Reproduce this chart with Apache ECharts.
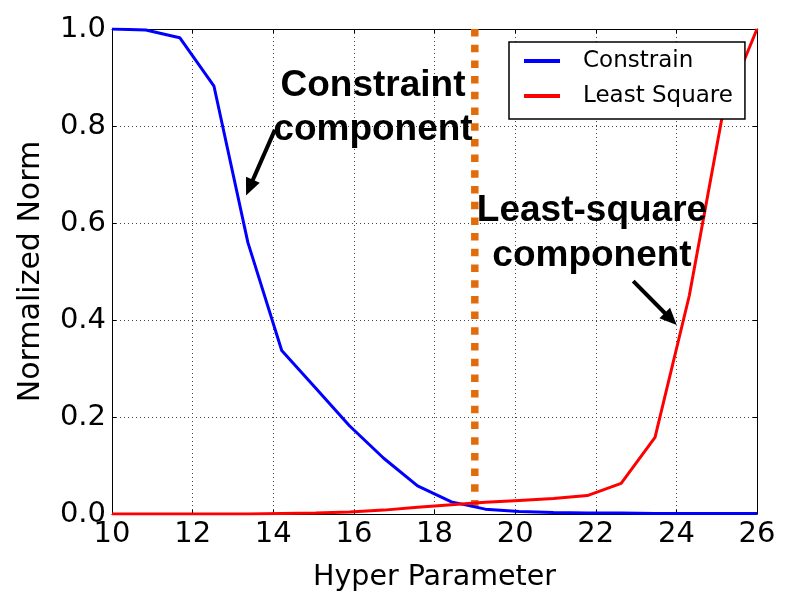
<!DOCTYPE html>
<html>
<head>
<meta charset="utf-8">
<script src="https://cdn.jsdelivr.net/npm/echarts@6/dist/echarts.min.js"></script>
<style>
  html, body { margin: 0; padding: 0; background: #fff; }
  #chart { width: 789px; height: 599px; }
</style>
</head>
<body>
<div id="chart"></div>
<script>
// Hyper parameter sweep (x) and the two normalized norm curves
const hyperParam = [10, 10.84, 11.68, 12.53, 13.37, 14.21, 15.05, 15.89, 16.74, 17.58,
                    18.42, 19.26, 20.1, 20.95, 21.79, 22.63, 23.47, 24.32, 25.16, 26];
const constrainNorm = [1.0, 0.998, 0.982, 0.882, 0.56, 0.337, 0.26, 0.182, 0.115, 0.058,
                       0.025, 0.01, 0.005, 0.003, 0.002, 0.002, 0.001, 0.001, 0.001, 0.001];
const leastSquareNorm = [0, 0, 0, 0, 0, 0.001, 0.002, 0.004, 0.008, 0.014,
                         0.019, 0.024, 0.028, 0.032, 0.038, 0.063, 0.158, 0.45, 0.83, 1.0];

// Chosen hyper parameter (vertical marker)
const chosenParam = 19;

// Axis ticks
const xTicks = [10, 12, 14, 16, 18, 20, 22, 24, 26];
const yTicks = [0.0, 0.2, 0.4, 0.6, 0.8, 1.0];

// Arrow annotations in data space: [from, to]
const constraintArrow = [[14.04, 0.792], [13.41, 0.673]];
const leastSquareArrow = [[22.93, 0.48], [23.86, 0.402]];

const seriesNames = ['Constrain', 'Least Square'];

const pair = (xs, ys) => xs.map((x, i) => [x, ys[i]]);

const chart = echarts.init(document.getElementById('chart'), null, { renderer: 'canvas' });

const tickFont = { fontFamily: 'DejaVu Sans', fontSize: 29, color: '#000' };
const frameLine = { show: true, onZero: false, lineStyle: { color: '#000', width: 1 } };
const gridLine = { show: true, lineStyle: { color: '#444', width: 1, type: [1, 3] } };

const arrowLine = (pts) => [{ coord: pts[0], symbol: 'none' }, { coord: pts[1], symbol: 'triangle', symbolSize: [15, 17] }];

chart.setOption({
  animation: false,
  backgroundColor: '#fff',
  grid: { left: 112, right: 32, top: 29, bottom: 85, containLabel: false },
  legend: {
    data: seriesNames,
    left: 509, top: 42,
    orient: 'vertical',
    icon: 'rect',
    itemWidth: 36, itemHeight: 4,
    itemGap: 9,
    padding: [6, 12, 10, 15],
    borderColor: '#000', borderWidth: 1.5,
    backgroundColor: '#fff',
    textStyle: { fontFamily: 'DejaVu Sans', fontSize: 23, color: '#000', lineHeight: 26, padding: [0, 0, 0, 18] }
  },
  xAxis: [{
    type: 'value', min: xTicks[0], max: xTicks[xTicks.length - 1], interval: 2,
    name: 'Hyper Parameter', nameLocation: 'middle', nameGap: 49,
    nameTextStyle: { fontFamily: 'DejaVu Sans', fontSize: 28.5, color: '#000' },
    axisLine: frameLine,
    axisTick: { show: true, inside: true, length: 4, lineStyle: { color: '#000' } },
    axisLabel: Object.assign({ margin: 6 }, tickFont),
    splitLine: gridLine
  }, {
    type: 'value', position: 'top', min: xTicks[0], max: xTicks[xTicks.length - 1], interval: 2,
    axisLine: frameLine,
    axisTick: { show: true, inside: true, length: 4, lineStyle: { color: '#000' } },
    axisLabel: { show: false }, splitLine: { show: false }
  }],
  yAxis: [{
    type: 'value', min: yTicks[0], max: yTicks[yTicks.length - 1], interval: 0.2,
    name: 'Normalized Norm', nameLocation: 'middle', nameGap: 66,
    nameTextStyle: { fontFamily: 'DejaVu Sans', fontSize: 30, color: '#000' },
    axisLine: frameLine,
    axisTick: { show: true, inside: true, length: 4, lineStyle: { color: '#000' } },
    axisLabel: Object.assign({ margin: 6, formatter: v => v.toFixed(1) }, tickFont),
    splitLine: gridLine
  }, {
    type: 'value', position: 'right', min: yTicks[0], max: yTicks[yTicks.length - 1], interval: 0.2,
    axisLine: frameLine,
    axisTick: { show: true, inside: true, length: 4, lineStyle: { color: '#000' } },
    axisLabel: { show: false }, splitLine: { show: false }
  }],
  series: [
    {
      name: 'chosen', type: 'line', data: [[chosenParam, 1], [chosenParam, 0]],
      symbol: 'none', silent: true,
      lineStyle: { color: '#E36C0A', width: 7.5, type: [7.5, 8.2], cap: 'butt' },
      z: 1
    },
    {
      name: seriesNames[0], type: 'line', data: pair(hyperParam, constrainNorm),
      symbol: 'none', lineStyle: { color: '#0000FF', width: 3 }, itemStyle: { color: '#0000FF' },
      z: 3,
      markLine: {
        silent: true, animation: false,
        lineStyle: { color: '#000', width: 4, type: 'solid' },
        itemStyle: { color: '#000' },
        label: { show: false },
        data: [arrowLine(constraintArrow)]
      }
    },
    {
      name: seriesNames[1], type: 'line', data: pair(hyperParam, leastSquareNorm),
      symbol: 'none', lineStyle: { color: '#FF0000', width: 3 }, itemStyle: { color: '#FF0000' },
      z: 3,
      markLine: {
        silent: true, animation: false,
        lineStyle: { color: '#000', width: 4, type: 'solid' },
        itemStyle: { color: '#000' },
        label: { show: false },
        data: [arrowLine(leastSquareArrow)]
      }
    }
  ],
  graphic: [
    {
      type: 'text', x: 373, y: 64, z: 10,
      style: {
        text: 'Constraint\ncomponent', align: 'center', verticalAlign: 'top',
        fontFamily: 'Liberation Sans', fontWeight: 'bold', fontSize: 37, lineHeight: 44, fill: '#000'
      }
    },
    {
      type: 'text', x: 592, y: 188, z: 10,
      style: {
        text: 'Least-square\ncomponent', align: 'center', verticalAlign: 'top',
        fontFamily: 'Liberation Sans', fontWeight: 'bold', fontSize: 37, lineHeight: 45, fill: '#000'
      }
    }
  ]
});
</script>
</body>
</html>
